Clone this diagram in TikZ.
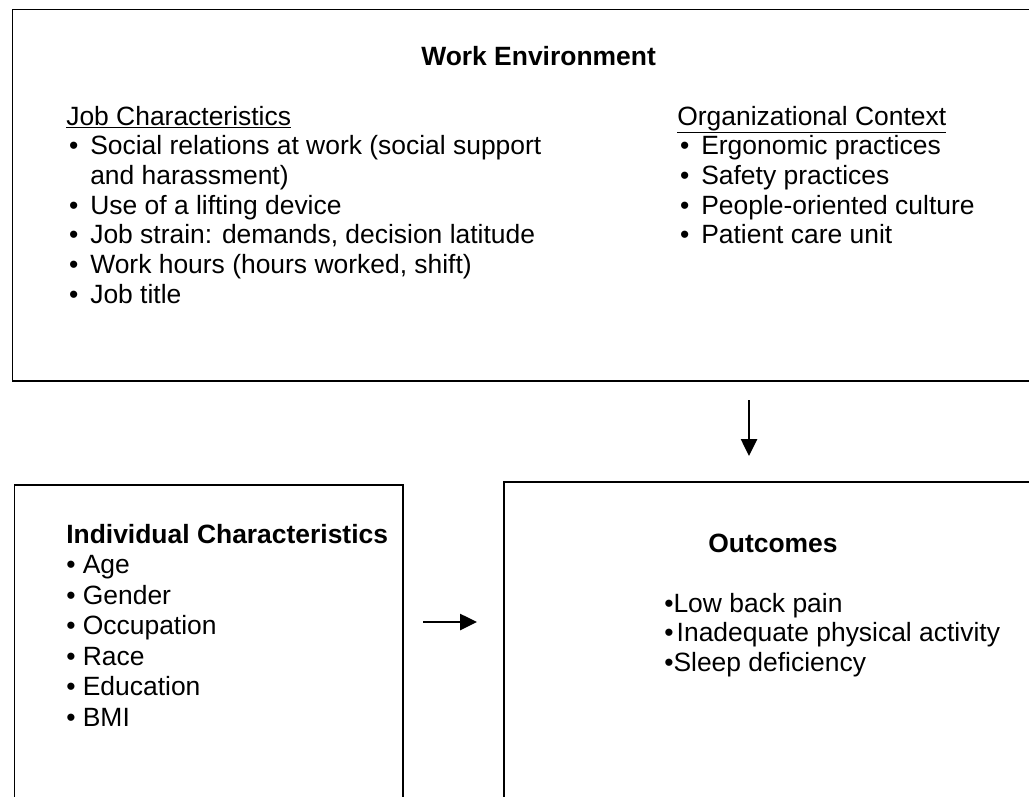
\documentclass[tikz,border=0pt]{standalone}
\usepackage{fontspec}
\setmainfont{Liberation Sans}
\usetikzlibrary{arrows.meta,positioning}

\newcommand{\sz}[1]{\fontsize{18.8}{#1}\selectfont}
\newcommand{\blt}[1]{\makebox[#1][l]{\hspace{0.07cm}\textbullet}}

\begin{document}
\begin{tikzpicture}[x=0.025cm,y=-0.025cm,
  box/.style={draw,line width=1.4pt,inner sep=0pt,outer sep=0pt,anchor=north west},
  txt/.style={inner sep=0pt,anchor=base west},
  head/.style={inner sep=0pt,anchor=base west,font=\sz{21}\bfseries},
  arr/.style={-{Triangle[length=0.42cm,width=0.4cm]},line width=1.4pt},
]
  \useasboundingbox (0,0) rectangle (1029,796);
  \clip (0,0) rectangle (1029,796);

  % Boxes
  \node[box,minimum width=25.8cm,minimum height=9.275cm] (workenv) at (12.5,9.5) {};
  \node[box,minimum width=9.7cm,minimum height=8.5cm]   (indiv)   at (14.5,485) {};
  \node[box,minimum width=14cm,minimum height=8.5cm]    (outc)    at (504,482) {};

  % Work environment
  \node[head] (wetitle) at (421,65) {Work Environment};
  \node[txt,font=\sz{21.1}] (jobchar) at (66,125) {%
    \begin{tabular}[t]{@{}l@{}}
      \underline{Job Characteristics}\\
      \blt{0.6cm}Social relations at work (social support\\
      \hspace{0.6cm}and harassment)\\
      \blt{0.6cm}Use of a lifting device\\
      \blt{0.6cm}Job strain: demands, decision latitude\\
      \blt{0.6cm}Work hours (hours worked, shift)\\
      \blt{0.6cm}Job title
    \end{tabular}};
  \node[txt,font=\sz{21.1}] (orgctx) at (677,125) {%
    \begin{tabular}[t]{@{}l@{}}
      \underline{Organizational Context}\\
      \blt{0.6cm}Ergonomic practices\\
      \blt{0.6cm}Safety practices\\
      \blt{0.6cm}People-oriented culture\\
      \blt{0.6cm}Patient care unit
    \end{tabular}};

  % Individual characteristics
  \node[txt,font=\sz{21.7}] (indlist) at (66,543) {%
    \begin{tabular}[t]{@{}l@{}}
      \textbf{Individual Characteristics}\\
      \textbullet{} Age\\
      \textbullet{} Gender\\
      \textbullet{} Occupation\\
      \textbullet{} Race\\
      \textbullet{} Education\\
      \textbullet{} BMI
    \end{tabular}};

  % Outcomes
  \node[head] (outtitle) at (708,552) {Outcomes};
  \node[txt,font=\sz{21.3}] (outlist) at (664,612) {%
    \begin{tabular}[t]{@{}l@{}}
      \textbullet Low back pain\\
      \textbullet\hspace{0.08cm}Inadequate physical activity\\
      \textbullet Sleep deficiency
    \end{tabular}};

  % Arrows
  \coordinate (dn) at (749,0);
  \coordinate (rt) at (0,622);
  \draw[arr,shorten <=0.49cm,shorten >=0.65cm] (workenv.south -| dn) -- (outc.north -| dn);
  \draw[arr,shorten <=0.51cm,shorten >=0.675cm] (indiv.east |- rt) -- (outc.west |- rt);
\end{tikzpicture}
\end{document}
